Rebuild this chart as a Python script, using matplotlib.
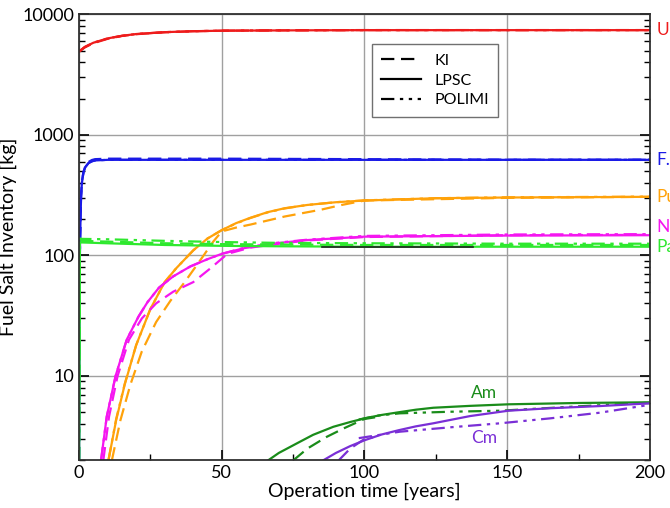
import matplotlib
matplotlib.use('Agg')
import matplotlib.pyplot as plt
from matplotlib.lines import Line2D

plt.rcParams['font.family'] = ['Lato', 'DejaVu Sans']

# U
u_t = [0, 2, 5, 10, 15, 20, 30, 40, 50, 75, 100, 150, 200]
u_lpsc = [4900, 5350, 5800, 6300, 6620, 6850, 7100, 7230, 7300, 7350, 7380, 7380, 7380]
u_ki = [4900, 5300, 5750, 6250, 6600, 6830, 7080, 7220, 7300, 7360, 7390, 7390, 7390]
u_polimi = [4900, 5350, 5800, 6300, 6620, 6850, 7100, 7230, 7310, 7360, 7380, 7380, 7380]

# fission products
fp_t = [0, 0.2, 0.35, 0.7, 1.0, 1.5, 2.2, 3.3, 4.5, 5.6, 10, 50, 100, 150, 200]
fp_lpsc = [2, 60, 134, 308, 400, 481, 540, 583, 603, 613, 620, 620, 620, 620, 620]
fp_ki = [2, 62, 138, 315, 410, 490, 550, 595, 618, 628, 634, 634, 628, 622, 622]
fp_polimi = [2, 60, 134, 308, 400, 481, 540, 583, 603, 613, 620, 620, 620, 620, 620]

# Pu
pu_t = [10.3, 13, 16, 20, 25, 30, 34, 40, 45, 50, 55, 60, 66, 72, 80, 90, 100, 125, 150, 200]
pu_lpsc = [2, 4.3, 8.5, 18, 36, 60, 78, 110, 138, 162, 185, 205, 228, 246, 262, 276, 285, 298, 302, 306]
pu_ki_t = [11.5, 14.5, 18, 22, 27, 32, 37, 43, 47, 50, 55, 60, 72, 85, 92, 100, 150, 200]
pu_ki = [2, 4.3, 8.5, 16, 28, 42, 60, 95, 130, 158, 170, 180, 210, 240, 262, 285, 300, 306]
pu_polimi = [2, 4.4, 8.6, 18, 36, 60, 78, 110, 138, 162, 184, 204, 227, 245, 262, 276, 286, 298, 303, 307]

# Np
np_t = [7.7, 9.7, 12.8, 16.7, 20.8, 24, 28, 33, 39, 45, 50, 58, 69, 80, 100, 150, 200]
np_lpsc = [2, 4.6, 10, 20, 31, 41, 54, 67, 81, 93, 103, 115, 126, 134, 143, 146, 147]
np_ki_t = [8.5, 10.5, 13.5, 17.5, 22, 27, 33, 40, 46, 52, 60, 69, 80, 100, 150, 200]
np_ki = [2, 4.6, 10, 20, 30, 40, 50, 60, 78, 103, 116, 124, 133, 142, 147, 148]
np_polimi = [2, 4.6, 10, 20, 31, 41, 54, 67, 81, 93, 103, 116, 127, 135, 145, 149, 150]

# Pa
pa_t = [0, 0.3, 1, 10, 30, 50, 70, 100, 150, 200]
pa_lpsc = [2, 128, 128, 126, 122, 120, 119, 118, 118, 118]
pa_ki = [2, 133, 132, 130, 126, 124, 123, 122, 122, 122]
pa_polimi = [2, 138, 137, 136, 132, 129, 127, 126, 125, 125]

# dark segment lying on Pa
dark_t = [85, 110, 138]
dark_v = [117, 117, 117]

# Am
am_t = [66.3, 70, 76.3, 82, 89.1, 95, 100.2, 106, 112, 118, 124.1, 137, 150.4, 175, 200]
am_lpsc = [2, 2.3, 2.76, 3.25, 3.79, 4.15, 4.46, 4.75, 5.0, 5.25, 5.45, 5.65, 5.82, 5.97, 6.05]
am_ki_t = [75.1, 80, 86.8, 93, 100, 104]
am_ki = [2, 2.5, 3.13, 3.7, 4.4, 4.55]
am_polimi_t = [98, 105, 112.4, 130, 147.5, 175, 200]
am_polimi = [4.35, 4.7, 4.9, 5.05, 5.15, 5.6, 6.0]

# Cm
cm_t = [85.6, 90, 95, 100.2, 106, 112, 118, 124.1, 137, 150.4, 165, 182.5, 200]
cm_lpsc = [2, 2.3, 2.62, 2.94, 3.27, 3.55, 3.82, 4.05, 4.65, 5.15, 5.4, 5.63, 5.93]
cm_ki_t = [91, 95, 100, 103]
cm_ki = [2, 2.5, 3.0, 3.1]
cm_polimi_t = [98, 112.4, 130, 147.5, 165, 182.5, 199.6]
cm_polimi = [3.05, 3.45, 3.75, 4.05, 4.45, 4.96, 5.75]

colors = {'U': '#ee1c1c', 'F.P.': '#1a1ae6', 'Pu': '#ffa20a', 'Np': '#f516f0',
          'Pa': '#2ee82e', 'Am': '#1a8c1a', 'Cm': '#7a2fd6'}

ls_ki = (0, (6, 3))
ls_lpsc = '-'
ls_polimi = (0, (6, 2.5, 1.5, 2.5, 1.5, 2.5))
lw = 1.6

fig = plt.figure(figsize=(6.7, 5.08), dpi=100)
ax = fig.add_axes([0.118, 0.094, 0.852, 0.878])

ax.grid(True, which='major', color='#a0a0a0', lw=1.0)
ax.set_axisbelow(True)

ax.plot(u_t, u_ki, color=colors['U'], ls=ls_ki, lw=lw)
ax.plot(u_t, u_polimi, color=colors['U'], ls=ls_polimi, lw=lw)
ax.plot(u_t, u_lpsc, color=colors['U'], ls=ls_lpsc, lw=lw)

ax.plot(fp_t, fp_ki, color=colors['F.P.'], ls=ls_ki, lw=lw)
ax.plot(fp_t, fp_polimi, color=colors['F.P.'], ls=ls_polimi, lw=lw)
ax.plot(fp_t, fp_lpsc, color=colors['F.P.'], ls=ls_lpsc, lw=lw)

ax.plot(pu_ki_t, pu_ki, color=colors['Pu'], ls=ls_ki, lw=lw)
ax.plot(pu_t, pu_polimi, color=colors['Pu'], ls=ls_polimi, lw=lw)
ax.plot(pu_t, pu_lpsc, color=colors['Pu'], ls=ls_lpsc, lw=lw)

ax.plot(np_ki_t, np_ki, color=colors['Np'], ls=ls_ki, lw=lw)
ax.plot(np_t, np_polimi, color=colors['Np'], ls=ls_polimi, lw=lw)
ax.plot(np_t, np_lpsc, color=colors['Np'], ls=ls_lpsc, lw=lw)

ax.plot(pa_t, pa_ki, color=colors['Pa'], ls=ls_ki, lw=lw)
ax.plot(pa_t, pa_polimi, color=colors['Pa'], ls=ls_polimi, lw=lw)
ax.plot(pa_t, pa_lpsc, color=colors['Pa'], ls=ls_lpsc, lw=lw)
ax.plot(dark_t, dark_v, color='#202020', ls='-', lw=1.2)

ax.plot(am_ki_t, am_ki, color=colors['Am'], ls=ls_ki, lw=lw)
ax.plot(am_polimi_t, am_polimi, color=colors['Am'], ls=ls_polimi, lw=lw)
ax.plot(am_t, am_lpsc, color=colors['Am'], ls=ls_lpsc, lw=lw)

ax.plot(cm_ki_t, cm_ki, color=colors['Cm'], ls=ls_ki, lw=lw)
ax.plot(cm_polimi_t, cm_polimi, color=colors['Cm'], ls=ls_polimi, lw=lw)
ax.plot(cm_t, cm_lpsc, color=colors['Cm'], ls=ls_lpsc, lw=lw)

ax.set_yscale('log')
ax.set_xlim(0, 200)
ax.set_ylim(2, 10000)
ax.set_xticks([0, 50, 100, 150, 200])
ax.set_xticks([25, 75, 125, 175], minor=True)
ax.set_yticks([10, 100, 1000, 10000])
ax.set_yticklabels(['10', '100', '1000', '10000'])
ax.tick_params(which='both', direction='in', right=True, top=False, labelsize=13)
ax.tick_params(which='major', length=7, width=1.2)
ax.tick_params(which='minor', length=4, width=1.0)
for s in ax.spines.values():
    s.set_linewidth(1.3)
    s.set_color('#303030')

ax.set_xlabel('Operation time [years]', fontsize=14, labelpad=1)
ax.set_ylabel('Fuel Salt Inventory [kg]', fontsize=14)
ax.yaxis.set_label_coords(-0.108, 0.5)

# labels at the right edge (cut by the figure border)
side = [('U', 7400), ('F.P.', 620), ('Pu', 305), ('Np', 172), ('Pa', 117)]
for name, v in side:
    ax.text(1.012, v, name, transform=ax.get_yaxis_transform(), color=colors[name],
            fontsize=12.5, va='center', ha='left', clip_on=False)

ax.text(142, 7.2, 'Am', color=colors['Am'], fontsize=12.5, ha='center', va='center')
ax.text(142, 3.06, 'Cm', color=colors['Cm'], fontsize=12.5, ha='center', va='center')

handles = [Line2D([], [], color='black', ls=ls_ki, lw=lw),
           Line2D([], [], color='black', ls=ls_lpsc, lw=lw),
           Line2D([], [], color='black', ls=ls_polimi, lw=lw)]
leg = ax.legend(handles, ['KI', 'LPSC', 'POLIMI'], loc='upper left',
                bbox_to_anchor=(0.513, 0.933), borderaxespad=0, fancybox=False,
                framealpha=1, edgecolor='#707070', fontsize=11.5, handlelength=2.5,
                borderpad=0.6, labelspacing=0.35)
leg.get_frame().set_linewidth(1.0)

fig.savefig('out.png', dpi=100)
